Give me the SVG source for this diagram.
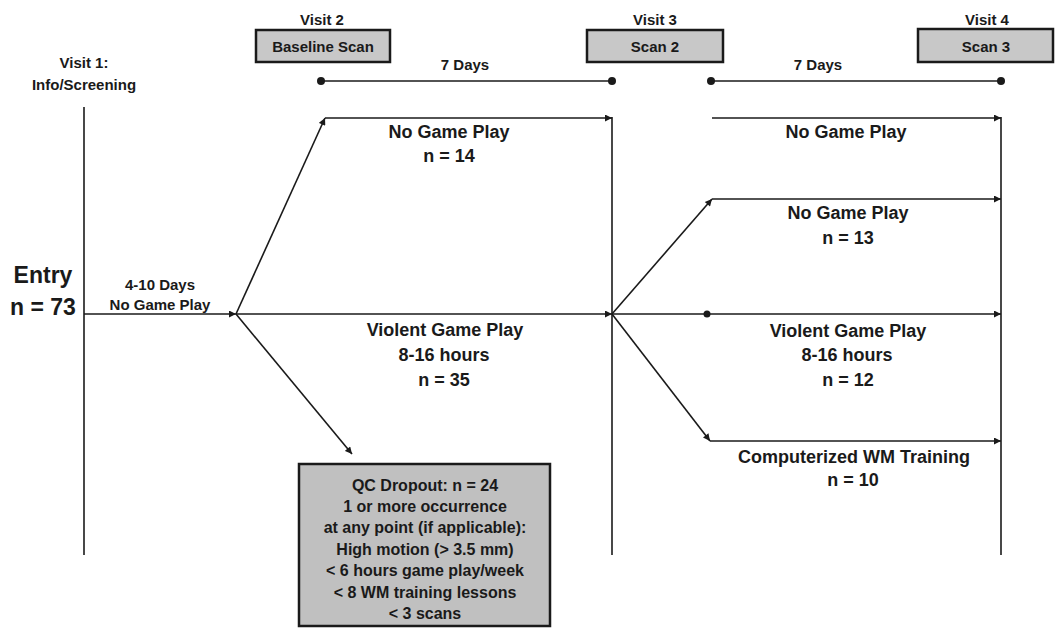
<svg xmlns="http://www.w3.org/2000/svg" width="1055" height="629" viewBox="0 0 1055 629">
<defs>
<marker id="ah" viewBox="0 0 10 10" refX="10" refY="5" markerWidth="9" markerHeight="7" markerUnits="userSpaceOnUse" orient="auto">
<path d="M0,0 L10,5 L0,10 z" fill="#1a1a1a"/>
</marker>
</defs>
<style>
text{font-family:"Liberation Sans",Arial,sans-serif;font-weight:bold;fill:#1a1a1a;text-anchor:middle}
.sm{font-size:15px}
.md{font-size:18px}
.qc{font-size:16px}
.lg{font-size:23px}
.ln{stroke:#1a1a1a;stroke-width:1.6;fill:none}
.ar{stroke:#1a1a1a;stroke-width:1.6;fill:none;marker-end:url(#ah)}
.box{fill:#c8c8c8;stroke:#1a1a1a;stroke-width:2.5}
.dot{fill:#1a1a1a}
</style>
<rect width="1055" height="629" fill="#ffffff"/>

<g id="visit1">
<text class="sm" x="84" y="68">Visit 1:</text>
<text class="sm" x="84" y="90">Info/Screening</text>
</g>
<g id="visit2">
<text class="sm" x="322" y="25">Visit 2</text>
<rect class="box" x="256" y="30" width="134" height="32"/>
<text class="sm" x="323" y="52">Baseline Scan</text>
</g>
<g id="visit3">
<text class="sm" x="655" y="25">Visit 3</text>
<rect class="box" x="587" y="30" width="136" height="32"/>
<text class="sm" x="655" y="52">Scan 2</text>
</g>
<g id="visit4">
<text class="sm" x="987" y="25">Visit 4</text>
<rect class="box" x="918" y="29" width="135" height="33"/>
<text class="sm" x="986" y="52">Scan 3</text>
</g>
<g id="entry">
<text class="lg" x="43" y="283">Entry</text>
<text class="lg" x="43" y="315">n = 73</text>
</g>
<g id="qc-dropout">
<rect class="box" x="299" y="464" width="251" height="162" style="fill:#c0c0c0"/>
<text class="qc" x="425" y="491">QC Dropout: n = 24</text>
<text class="qc" x="425" y="512">1 or more occurrence</text>
<text class="qc" x="425" y="533">at any point (if applicable):</text>
<text class="qc" x="425" y="555">High motion (&gt; 3.5 mm)</text>
<text class="qc" x="425" y="576">&lt; 6 hours game play/week</text>
<text class="qc" x="425" y="598">&lt; 8 WM training lessons</text>
<text class="qc" x="425" y="619">&lt; 3 scans</text>
</g>

<g id="labels">
<text class="sm" x="465" y="70">7 Days</text>
<text class="sm" x="818" y="70">7 Days</text>
<text class="sm" x="160" y="290">4-10 Days</text>
<text class="sm" x="160" y="310">No Game Play</text>
<text class="md" x="449" y="138">No Game Play</text>
<text class="md" x="449" y="162">n = 14</text>
<text class="md" x="445" y="336">Violent Game Play</text>
<text class="md" x="444" y="361">8-16 hours</text>
<text class="md" x="444" y="386">n = 35</text>
<text class="md" x="846" y="138">No Game Play</text>
<text class="md" x="848" y="219">No Game Play</text>
<text class="md" x="848" y="244">n = 13</text>
<text class="md" x="848" y="337">Violent Game Play</text>
<text class="md" x="847" y="361">8-16 hours</text>
<text class="md" x="848" y="386">n = 12</text>
<text class="md" x="854" y="463">Computerized WM Training</text>
<text class="md" x="853" y="486">n = 10</text>
</g>

<g id="connectors">
<!-- timelines -->
<line class="ln" x1="321" y1="81" x2="612" y2="81"/>
<circle class="dot" cx="321" cy="81" r="4"/>
<circle class="dot" cx="612" cy="81" r="4"/>
<line class="ln" x1="711" y1="81" x2="1001" y2="81"/>
<circle class="dot" cx="711" cy="81" r="4"/>
<circle class="dot" cx="1001" cy="81" r="4"/>
<!-- verticals -->
<line class="ln" x1="84" y1="107" x2="84" y2="555"/>
<line class="ln" x1="612" y1="117" x2="612" y2="555"/>
<line class="ln" x1="1001" y1="117" x2="1001" y2="555"/>
<!-- entry -->
<line class="ar" x1="84" y1="314" x2="236" y2="314"/>
<!-- first split -->
<line class="ar" x1="236" y1="314" x2="325" y2="118"/>
<line class="ar" x1="325" y1="118" x2="612" y2="118"/>
<line class="ar" x1="236" y1="314" x2="612" y2="314"/>
<line class="ar" x1="236" y1="314" x2="352" y2="454"/>
<!-- second split -->
<line class="ar" x1="712" y1="118" x2="1001" y2="118"/>
<line class="ar" x1="612" y1="314" x2="712" y2="199"/>
<line class="ar" x1="712" y1="199" x2="1001" y2="199"/>
<line class="ar" x1="612" y1="314" x2="1001" y2="314"/>
<circle class="dot" cx="707" cy="314" r="3.5"/>
<line class="ar" x1="612" y1="314" x2="710" y2="441"/>
<line class="ar" x1="710" y1="441" x2="1001" y2="441"/>
</g>
</svg>
